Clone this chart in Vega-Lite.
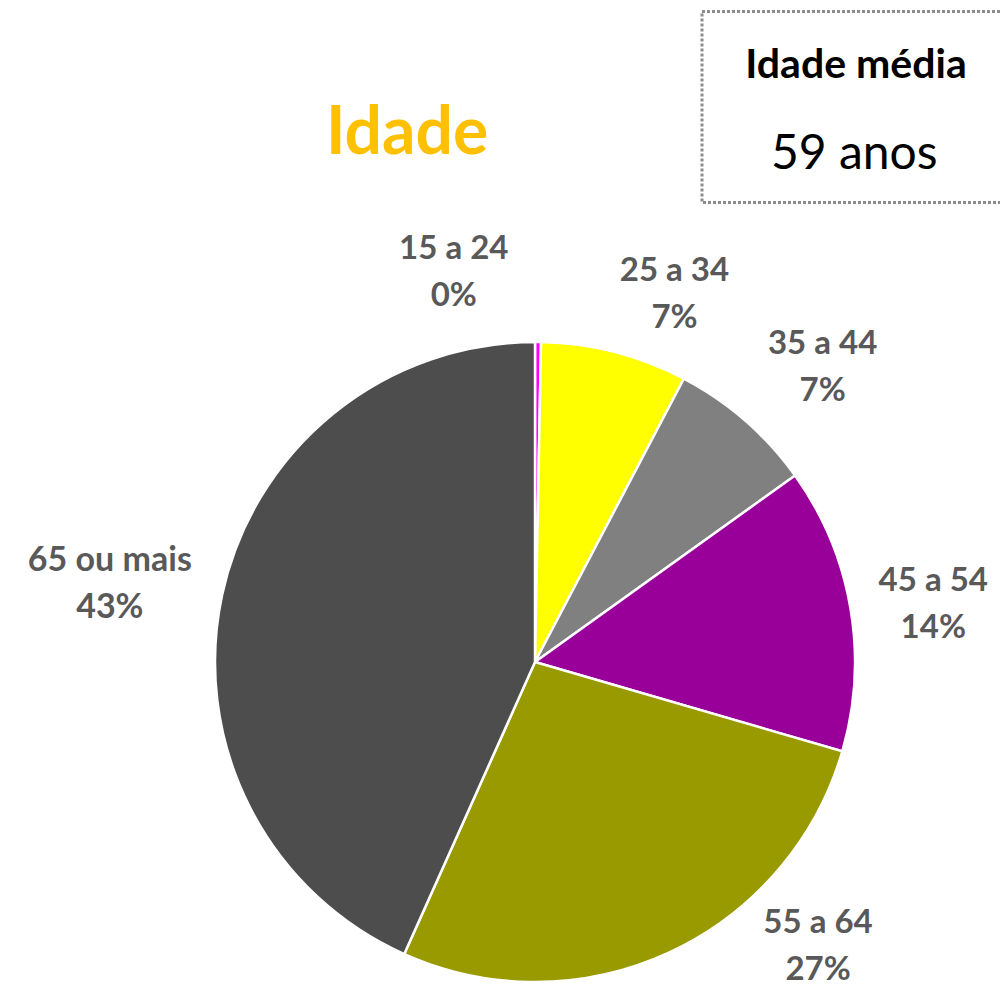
{
  "$schema": "https://vega.github.io/schema/vega-lite/v6.json",
  "width": 930,
  "height": 656,
  "autosize": {"type": "none"},
  "padding": {"left": 70, "top": 334, "right": 0, "bottom": 0},
  "background": "#ffffff",
  "title": {
    "text": "Idade",
    "font": "Lato",
    "fontSize": 66,
    "fontWeight": "bold",
    "color": "#FFC000",
    "anchor": "middle",
    "frame": "group",
    "dx": -128,
    "offset": 0,
    "dy": 210,
    "baseline": "alphabetic"
  },
  "data": {
    "values": [
      {"group": "15 a 24", "value": 0.3, "ord": 1, "label": "15 a 24\n0%"},
      {"group": "25 a 34", "value": 7.4, "ord": 2, "label": "25 a 34\n7%"},
      {"group": "35 a 44", "value": 7.4, "ord": 3, "label": "35 a 44\n7%"},
      {"group": "45 a 54", "value": 14.4, "ord": 4, "label": "45 a 54\n14%"},
      {"group": "55 a 64", "value": 27.2, "ord": 5, "label": "55 a 64\n27%"},
      {"group": "65 ou mais", "value": 43.3, "ord": 6, "label": "65 ou mais\n43%"}
    ]
  },
  "layer": [
    {
      "mark": {"type": "arc", "outerRadius": 320, "stroke": "#ffffff", "strokeWidth": 2.5},
      "encoding": {
        "theta": {"field": "value", "type": "quantitative", "stack": true},
        "order": {"field": "ord", "type": "quantitative"},
        "color": {
          "field": "group",
          "type": "nominal",
          "scale": {
            "domain": ["15 a 24", "25 a 34", "35 a 44", "45 a 54", "55 a 64", "65 ou mais"],
            "range": ["#FF00FF", "#FFFF00", "#808080", "#990099", "#999900", "#4D4D4D"]
          },
          "legend": null
        }
      }
    },
    {
      "mark": {"type": "text", "radius": 400, "dx": -85, "dy": -13, "font": "Lato", "fontSize": 33, "fontWeight": "bold", "color": "#595959", "lineBreak": "\n", "lineHeight": 47, "align": "center", "baseline": "middle"},
      "encoding": {
        "theta": {"field": "value", "type": "quantitative", "stack": true},
        "order": {"field": "ord", "type": "quantitative"},
        "text": {"condition": {"test": "datum.group === '15 a 24'", "field": "label", "type": "nominal"}, "value": ""}
      }
    },
    {
      "mark": {"type": "text", "radius": 400, "dx": 40, "dy": -4, "font": "Lato", "fontSize": 33, "fontWeight": "bold", "color": "#595959", "lineBreak": "\n", "lineHeight": 47, "align": "center", "baseline": "middle"},
      "encoding": {
        "theta": {"field": "value", "type": "quantitative", "stack": true},
        "order": {"field": "ord", "type": "quantitative"},
        "text": {"condition": {"test": "datum.group === '25 a 34'", "field": "label", "type": "nominal"}, "value": ""}
      }
    },
    {
      "mark": {"type": "text", "radius": 400, "dx": 25, "dy": -16, "font": "Lato", "fontSize": 33, "fontWeight": "bold", "color": "#595959", "lineBreak": "\n", "lineHeight": 47, "align": "center", "baseline": "middle"},
      "encoding": {
        "theta": {"field": "value", "type": "quantitative", "stack": true},
        "order": {"field": "ord", "type": "quantitative"},
        "text": {"condition": {"test": "datum.group === '35 a 44'", "field": "label", "type": "nominal"}, "value": ""}
      }
    },
    {
      "mark": {"type": "text", "radius": 400, "dx": 4, "dy": -13, "font": "Lato", "fontSize": 33, "fontWeight": "bold", "color": "#595959", "lineBreak": "\n", "lineHeight": 47, "align": "center", "baseline": "middle"},
      "encoding": {
        "theta": {"field": "value", "type": "quantitative", "stack": true},
        "order": {"field": "ord", "type": "quantitative"},
        "text": {"condition": {"test": "datum.group === '45 a 54'", "field": "label", "type": "nominal"}, "value": ""}
      }
    },
    {
      "mark": {"type": "text", "radius": 400, "dx": 115, "dy": -102, "font": "Lato", "fontSize": 33, "fontWeight": "bold", "color": "#595959", "lineBreak": "\n", "lineHeight": 47, "align": "center", "baseline": "middle"},
      "encoding": {
        "theta": {"field": "value", "type": "quantitative", "stack": true},
        "order": {"field": "ord", "type": "quantitative"},
        "text": {"condition": {"test": "datum.group === '55 a 64'", "field": "label", "type": "nominal"}, "value": ""}
      }
    },
    {
      "mark": {"type": "text", "radius": 400, "dx": -34, "dy": -17, "font": "Lato", "fontSize": 34, "fontWeight": "bold", "color": "#595959", "lineBreak": "\n", "lineHeight": 47, "align": "center", "baseline": "middle"},
      "encoding": {
        "theta": {"field": "value", "type": "quantitative", "stack": true},
        "order": {"field": "ord", "type": "quantitative"},
        "text": {"condition": {"test": "datum.group === '65 ou mais'", "field": "label", "type": "nominal"}, "value": ""}
      }
    },
    {
      "data": {"values": [{"media": "59 anos"}]},
      "mark": {"type": "point", "opacity": 0},
      "encoding": {
        "shape": {
          "field": "media",
          "type": "nominal",
          "legend": {
            "orient": "none",
            "legendX": 632,
            "legendY": -322.5,
            "title": "Idade média",
            "titleFont": "Lato",
            "titleFontSize": 41,
            "titleFontWeight": "bold",
            "titleColor": "#000000",
            "titleAnchor": "middle",
            "titleBaseline": "line-top",
            "titleLineHeight": 61,
            "titlePadding": 54,
            "titleLimit": 600,
            "labelFont": "Lato",
            "labelFontSize": 48,
            "labelColor": "#000000",
            "labelOffset": -3,
            "labelLimit": 600,
            "labelExpr": "datum.label + '\u00a0\u00a0\u00a0\u00a0\u200b'",
            "symbolSize": 0,
            "symbolOpacity": 0,
            "symbolStrokeWidth": 0,
            "padding": 24,
            "strokeColor": "#8C8C8C"
          }
        }
      }
    }
  ],
  "config": {
    "view": {"stroke": null},
    "legend": {"strokeDash": [3, 2], "strokeWidth": 3}
  }
}
